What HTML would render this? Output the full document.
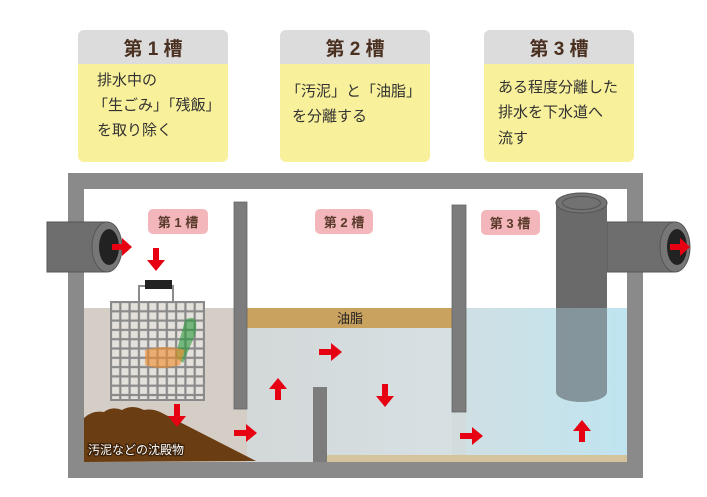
<!DOCTYPE html>
<html><head><meta charset="utf-8"><style>
body{margin:0;background:#fff;width:707px;height:492px;overflow:hidden;font-family:"Liberation Sans","Noto Sans CJK JP",sans-serif}
</style></head><body>
<svg width="707" height="492" viewBox="0 0 707 492" xmlns="http://www.w3.org/2000/svg" style="font-family:'Liberation Sans','Noto Sans CJK JP',sans-serif">
<defs>
<pattern id="grid" x="111" y="302" width="9.3" height="9.3" patternUnits="userSpaceOnUse">
<rect width="9.3" height="9.3" fill="#e4e1dc" stroke="#8a8a8a" stroke-width="2.2"/>
</pattern>
<linearGradient id="w2" x1="0" x2="1"><stop offset="0" stop-color="#d3d8d8"/><stop offset="1" stop-color="#d6e0e3"/></linearGradient>
<linearGradient id="w3" x1="0" x2="1"><stop offset="0" stop-color="#cfe0e4"/><stop offset="1" stop-color="#bfe4f0"/></linearGradient>
</defs>
<g font-size="15" fill="#333">
<rect x="78" y="30" width="150" height="132" rx="6" fill="#f8f09a"/>
<path d="M78 64V36a6 6 0 0 1 6-6h138a6 6 0 0 1 6 6v28z" fill="#dcdcdc"/>
<text x="153" y="55" text-anchor="middle" font-size="19" font-weight="bold" fill="#4a3020">第 1 槽</text>
<text x="97" y="85">排水中の</text><text x="93" y="110">「生ごみ」「残飯」</text><text x="97" y="135">を取り除く</text>
<rect x="280" y="30" width="150" height="132" rx="6" fill="#f8f09a"/>
<path d="M280 64V36a6 6 0 0 1 6-6h138a6 6 0 0 1 6 6v28z" fill="#dcdcdc"/>
<text x="355" y="55" text-anchor="middle" font-size="19" font-weight="bold" fill="#4a3020">第 2 槽</text>
<text x="286" y="96">「汚泥」と「油脂」</text><text x="292" y="121">を分離する</text>
<rect x="484" y="30" width="150" height="132" rx="6" fill="#f8f09a"/>
<path d="M484 64V36a6 6 0 0 1 6-6h138a6 6 0 0 1 6 6v28z" fill="#dcdcdc"/>
<text x="559" y="55" text-anchor="middle" font-size="19" font-weight="bold" fill="#4a3020">第 3 槽</text>
<text x="498" y="92">ある程度分離した</text><text x="498" y="117">排水を下水道へ</text><text x="498" y="143">流す</text>
</g>
<rect x="68" y="173" width="575" height="305" fill="#8a8a8a"/>
<rect x="84" y="189" width="543" height="273" fill="#fff"/>
<rect x="84" y="308" width="163" height="154" fill="#d5cec6"/>
<rect x="247" y="308" width="205" height="154" fill="url(#w2)"/>
<rect x="466" y="308" width="161" height="154" fill="url(#w3)"/>
<rect x="452" y="308" width="14" height="154" fill="#d2dcdd"/>
<rect x="247" y="308" width="205" height="20" fill="#c9a260"/>
<text x="350" y="323" text-anchor="middle" font-size="13" fill="#222">油脂</text>
<rect x="327" y="455" width="300" height="7" fill="#d4c39c"/>
<rect x="234" y="202" width="13" height="207" fill="#7c7c7c" stroke="#666" stroke-width="0.8"/>
<rect x="313" y="387" width="14" height="75" fill="#7c7c7c"/>
<rect x="452" y="205" width="14" height="207" fill="#7c7c7c" stroke="#666" stroke-width="0.8"/>
<path d="M84 462V418q8-8 20-6q8-6 18-2q10-6 22 0q10-2 20 4L256 461z" fill="#6b3d12"/>
<text x="88" y="454" font-size="12" fill="#fff" stroke="#3a2008" stroke-width="2.5" paint-order="stroke">汚泥などの沈殿物</text>
<rect x="111" y="302" width="93" height="98" fill="url(#grid)"/>
<rect x="111" y="302" width="93" height="98" fill="none" stroke="#8a8a8a" stroke-width="2"/>
<path d="M139 302v-16h34v16" fill="none" stroke="#8a8a8a" stroke-width="2"/>
<rect x="145" y="280" width="27" height="9" fill="#222"/>
<path d="M185 320q15-8 10 15l-12 28l-8-6z" fill="#2a9a3a" opacity="0.6"/>
<path d="M145 350q20-6 40 0l-5 15q-20 6-35 0z" fill="#f08a2a" opacity="0.6"/>
<rect x="47" y="222" width="60" height="50" fill="#6e6e6e" stroke="#555"/>
<ellipse cx="107" cy="247" rx="15" ry="25" fill="#777" stroke="#555"/>
<ellipse cx="109" cy="247" rx="10" ry="18" fill="#222"/>
<rect x="607" y="222" width="68" height="50" fill="#6e6e6e" stroke="#555"/>
<ellipse cx="675" cy="247" rx="15" ry="25" fill="#777" stroke="#555"/>
<ellipse cx="677" cy="247" rx="10" ry="18" fill="#222"/>
<path d="M556 203V308H607V203z" fill="#6a6a6a"/>
<path d="M556 308V392a25.5 10 0 0 0 51 0V308z" fill="#7d8c92" opacity="0.9"/>
<ellipse cx="581.5" cy="203" rx="25.5" ry="10" fill="#727272" stroke="#555"/>
<ellipse cx="581.5" cy="203" rx="19" ry="6.5" fill="none" stroke="#555"/>
<g font-size="13" font-weight="bold" fill="#5a3a2a">
<rect x="148" y="209" width="60" height="25" rx="5" fill="#f2b6bb"/><text x="178" y="227" text-anchor="middle">第 1 槽</text>
<rect x="315" y="209" width="58" height="25" rx="5" fill="#f2b6bb"/><text x="344" y="227" text-anchor="middle">第 2 槽</text>
<rect x="481" y="210" width="59" height="25" rx="5" fill="#f2b6bb"/><text x="510" y="228" text-anchor="middle">第 3 槽</text>
</g>
<g fill="#e60012">
<path d="M112 244h10v-6l10 9l-10 9v-6h-10z"/>
<path d="M670 244h10v-6l10 9l-10 9v-6h-10z"/>
<path d="M153 248v12h-6l9 11l9-11h-6v-12z"/>
<path d="M174 404v12h-6l9 11l9-11h-6v-12z"/>
<path d="M382 384v12h-6l9 11l9-11h-6v-12z"/>
<path d="M275 400v-11h-6l9-11l9 11h-6v11z"/>
<path d="M579 442v-11h-6l9-11l9 11h-6v11z"/>
<path d="M234 430h12v-6l11 9l-11 9v-6h-12z"/>
<path d="M319 349h12v-6l11 9l-11 9v-6h-12z"/>
<path d="M460 433h12v-6l11 9l-11 9v-6h-12z"/>
</g>
</svg>
</body></html>
